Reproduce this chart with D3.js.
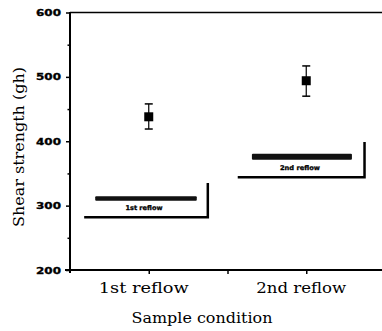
<!DOCTYPE html>
<html><head><meta charset="utf-8">
<script src="https://cdn.jsdelivr.net/npm/d3@7"></script>
<style>html,body{margin:0;padding:0;background:#fff;}svg{display:block;}</style>
</head><body>
<script>
const categories = ["1st reflow", "2nd reflow"];
const categoryPos = [1, 3];
const meanValues = [438, 494];
const errTop = [458, 517];
const errBottom = [419, 470];
const yTicks = [200, 300, 400, 500, 600];
const yMinorTicks = [250, 350, 450, 550];
const insetLabels = ["1st reflow", "2nd reflow"];
// inset (micrograph) annotation extents in data units
const insetBarX0 = [0.32, 2.31], insetBarX1 = [1.61, 3.58], insetBarV = [311, 376];
const frameX0 = [0.18, 2.13], frameX1 = [1.75, 3.74], frameBottomV = [282, 344], frameTopV = [335, 399];

const W = 382, H = 331;
const svg = d3.select("body").append("svg").attr("width", W).attr("height", H);
const x = d3.scaleLinear().domain([0, 4]).range([70, 385]);
const y = d3.scaleLinear().domain([200, 600]).range([270, 12.5]);

// top frame line
svg.append("line").attr("x1", x(0)).attr("x2", W).attr("y1", y(600)).attr("y2", y(600))
  .attr("stroke", "#000").attr("stroke-width", 1.5);

// Y axis
const yAxis = d3.axisLeft(y).tickValues(yTicks).tickSize(4).tickFormat(d3.format("d"));
const gy = svg.append("g").attr("transform", `translate(${x(0)},0)`).call(yAxis);
gy.select(".domain").attr("stroke-width", 2).attr("d", `M0,${y(600)-0.5}V${y(200)+3}`);
gy.selectAll(".tick line").attr("stroke-width", 1.5);
gy.selectAll(".tick text").attr("x", -9).attr("dy", "0.36em")
  .attr("font-family", "DejaVu Sans").attr("font-weight", "900").attr("font-size", 8.5)
  .attr("textLength", 25).attr("lengthAdjust", "spacingAndGlyphs").attr("fill", "#000")
  .attr("stroke", "#000").attr("stroke-width", 0.3);
svg.append("g").attr("transform", `translate(${x(0)},0)`)
  .call(d3.axisLeft(y).tickValues(yMinorTicks).tickSize(2.5).tickFormat(""))
  .call(g => g.select(".domain").remove())
  .selectAll(".tick line").attr("stroke-width", 1.5);

// X axis
const xAxis = d3.axisBottom(x).tickValues([1, 2, 3]).tickSize(4).tickFormat("");
const gx = svg.append("g").attr("transform", `translate(0,${y(200)})`).call(xAxis);
gx.select(".domain").attr("stroke-width", 2).attr("d", `M${x(0)-5},0H${W}`);
gx.selectAll(".tick line").attr("stroke-width", 1.5);

// category labels
svg.selectAll(".cat").data(categories).enter().append("text")
  .attr("x", (d, i) => x(categoryPos[i]) - 5).attr("y", 293)
  .attr("text-anchor", "middle").attr("font-family", "DejaVu Serif").attr("font-size", 14)
  .attr("textLength", 90).attr("lengthAdjust", "spacingAndGlyphs")
  .text(d => d);

// axis titles
svg.append("text").attr("x", 202).attr("y", 323).attr("text-anchor", "middle")
  .attr("font-family", "DejaVu Serif").attr("font-size", 14)
  .attr("textLength", 141).attr("lengthAdjust", "spacingAndGlyphs").text("Sample condition");
svg.append("text").attr("transform", "translate(24,147) rotate(-90)").attr("text-anchor", "middle")
  .attr("font-family", "DejaVu Serif").attr("font-size", 14)
  .attr("textLength", 160).attr("lengthAdjust", "spacingAndGlyphs").text("Shear strength (gh)");

// inset annotations
const ins = svg.append("g");
insetLabels.forEach((lab, i) => {
  ins.append("rect").attr("x", x(insetBarX0[i])).attr("width", x(insetBarX1[i]) - x(insetBarX0[i]))
    .attr("y", y(insetBarV[i]) - (i ? 3 : 2.2)).attr("height", i ? 6 : 4.4).attr("fill", "#111").attr("rx", 1);
  ins.append("text").attr("x", (x(insetBarX0[i]) + x(insetBarX1[i])) / 2 - 2)
    .attr("y", y(insetBarV[i]) + (i ? 13 : 11)).attr("text-anchor", "middle")
    .attr("font-family", "DejaVu Sans").attr("font-weight", "900").attr("font-size", 6.5)
    .attr("stroke", "#000").attr("stroke-width", 0.3)
    .attr("textLength", i ? 40 : 37).attr("lengthAdjust", "spacingAndGlyphs").text(lab);
  ins.append("path")
    .attr("d", `M${x(frameX0[i])},${y(frameBottomV[i])}H${x(frameX1[i])}V${y(frameTopV[i])}`)
    .attr("fill", "none").attr("stroke", "#000").attr("stroke-width", 2.5);
});

// error bars + points
const pts = svg.append("g");
meanValues.forEach((v, i) => {
  const cx = x(categoryPos[i]);
  pts.append("line").attr("x1", cx).attr("x2", cx).attr("y1", y(errTop[i])).attr("y2", y(errBottom[i]))
    .attr("stroke", "#000").attr("stroke-width", 1.2);
  [errTop[i], errBottom[i]].forEach(e => pts.append("line").attr("x1", cx - 4).attr("x2", cx + 4)
    .attr("y1", y(e)).attr("y2", y(e)).attr("stroke", "#000").attr("stroke-width", 1.5));
  pts.append("rect").attr("x", cx - 4.5).attr("y", y(v) - 4.5).attr("width", 9).attr("height", 9).attr("fill", "#000");
});
</script>
</body></html>
